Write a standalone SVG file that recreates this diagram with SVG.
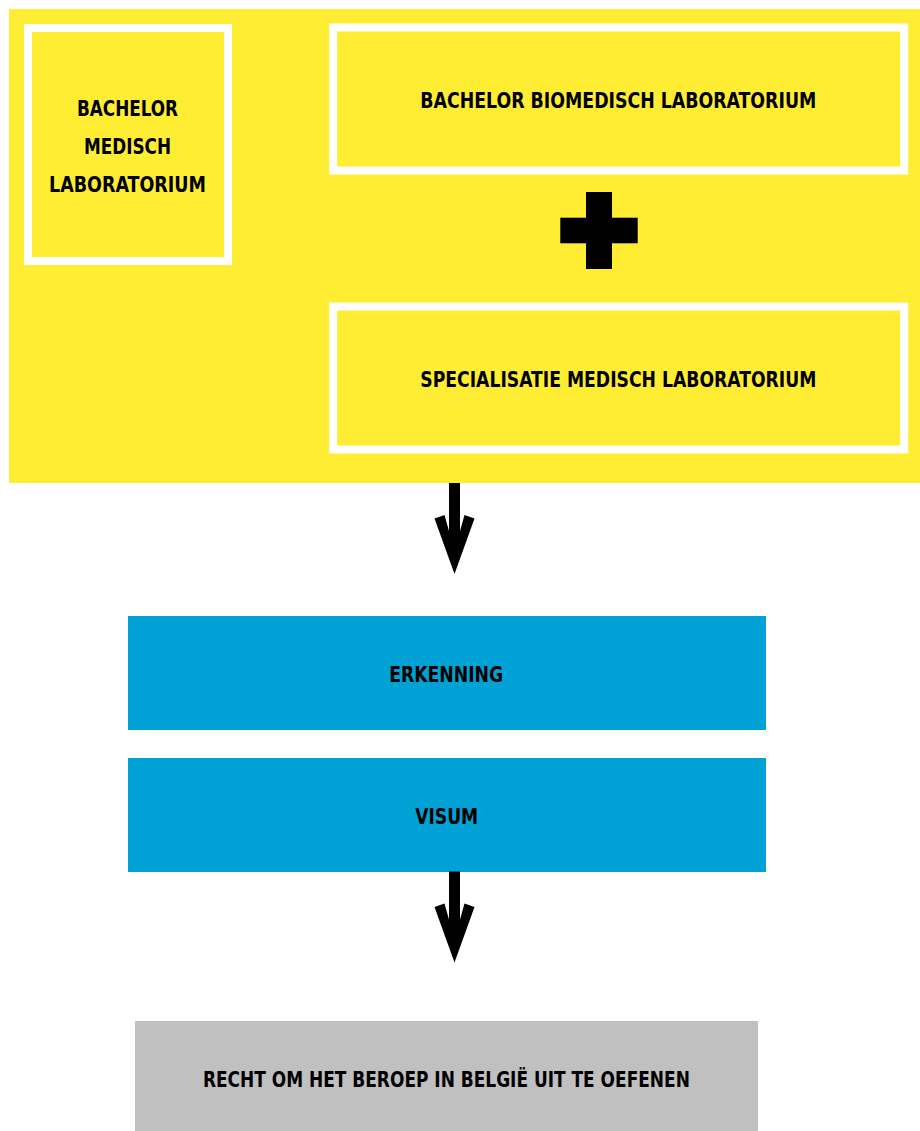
<svg xmlns="http://www.w3.org/2000/svg" xmlns:xlink="http://www.w3.org/1999/xlink" width="920" height="1131" viewBox="0 0 920 1131">
<style>
.lbl{font-family:"Liberation Sans Narrow","DejaVu Sans Condensed","Liberation Sans",sans-serif;font-weight:bold;font-size:22px;fill:#000;text-anchor:middle}
.ybox{fill:#FFED33;stroke:#FFFFFF;stroke-width:8}
.blue{fill:#00A2D5}
.gray{fill:#C0C0C0}
</style>
<defs>
<path id="arrow" d="M449,483 H460 V531 L464.5,515 L474.5,518.5 L454.5,574 L434.5,518.5 L444.5,515 L449,531 Z" fill="#000"/>
</defs>
<rect x="0" y="0" width="920" height="1131" fill="#FFFFFF"/>
<g id="container">
<rect x="9" y="9" width="911" height="474" fill="#FFED33"/>
</g>
<g id="node-bachelor-medisch">
<rect class="ybox" x="28" y="28" width="200" height="233"/>
<text class="lbl" x="127.5" y="116" textLength="101" lengthAdjust="spacingAndGlyphs">BACHELOR</text>
<text class="lbl" x="127.5" y="154.3" textLength="87" lengthAdjust="spacingAndGlyphs">MEDISCH</text>
<text class="lbl" x="127.5" y="191.7" textLength="157" lengthAdjust="spacingAndGlyphs">LABORATORIUM</text>
</g>
<g id="node-bachelor-biomedisch">
<rect class="ybox" x="333.2" y="27.5" width="571" height="143"/>
<text class="lbl" x="618.3" y="108.3" textLength="396" lengthAdjust="spacingAndGlyphs">BACHELOR BIOMEDISCH LABORATORIUM</text>
</g>
<g id="plus">
<rect x="586" y="192" width="26" height="77" fill="#000"/>
<rect x="560.3" y="217.7" width="77.4" height="25.6" fill="#000"/>
</g>
<g id="node-specialisatie">
<rect class="ybox" x="333.2" y="306.5" width="571" height="143"/>
<text class="lbl" x="618.3" y="387.3" textLength="396" lengthAdjust="spacingAndGlyphs">SPECIALISATIE MEDISCH LABORATORIUM</text>
</g>
<g id="node-erkenning">
<rect class="blue" x="128" y="616" width="638" height="114"/>
<text class="lbl" x="446.2" y="681.7" textLength="114" lengthAdjust="spacingAndGlyphs">ERKENNING</text>
</g>
<g id="node-visum">
<rect class="blue" x="128" y="758" width="638" height="114"/>
<text class="lbl" x="446.7" y="824" textLength="63" lengthAdjust="spacingAndGlyphs">VISUM</text>
</g>
<g id="node-recht">
<rect class="gray" x="135" y="1021" width="623" height="110"/>
<text class="lbl" x="446.4" y="1087.3" textLength="487" lengthAdjust="spacingAndGlyphs">RECHT OM HET BEROEP IN BELGIË UIT TE OEFENEN</text>
</g>
<g id="connectors">
<use xlink:href="#arrow"/>
<use xlink:href="#arrow" transform="translate(0,388.5)"/>
</g>
</svg>
